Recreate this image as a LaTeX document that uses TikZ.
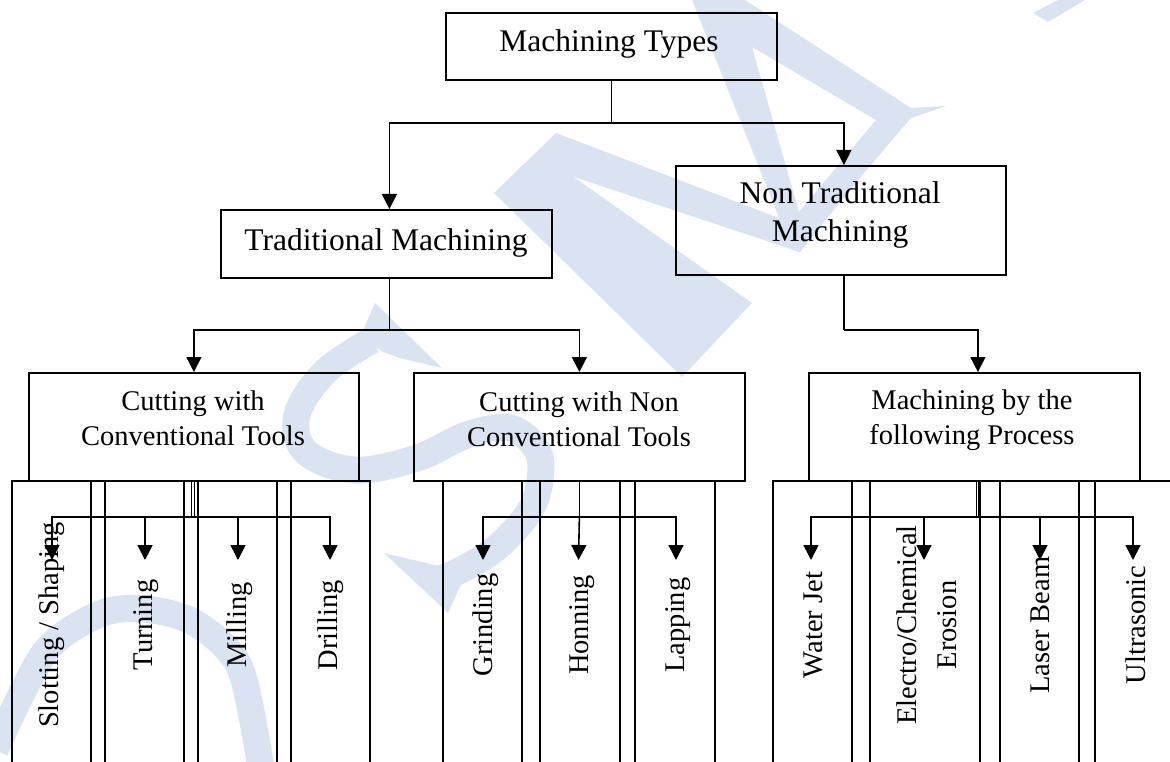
\documentclass[tikz,border=0pt]{standalone}
\usepackage{fontspec}
\setmainfont{Liberation Serif}
\usetikzlibrary{arrows.meta}
\definecolor{wmark}{RGB}{218,227,241}
\begin{document}
\begin{tikzpicture}[x=1pt,y=-1pt,
  bx/.style={draw, line width=1.8pt, rectangle, inner sep=0pt, anchor=north west},
  conn/.style={draw, line width=1.6pt},
  arr/.style={conn, -{Triangle[width=15pt,length=15pt]}},
  dbl/.style={draw, line width=0.9pt, double, double distance=1.7pt},
  big/.style={anchor=base, inner sep=0pt, font=\fontsize{31.5}{38}\selectfont},
  mid/.style={anchor=base, inner sep=0pt, font=\fontsize{28.5}{35}\selectfont},
  lf/.style={rotate=90, inner sep=0pt, align=center, font=\fontsize{28.5}{40}\selectfont},
  wm/.style={draw=wmark, line width=27pt},
]
\useasboundingbox (0,0) rectangle (1170,762);
\clip (0,0) rectangle (1170,762);

% ---------- watermark ----------
\draw[wm] plot[smooth] coordinates {(-5,750) (45,652) (100,614) (145,609) (195,623) (240,668) (262,775)};
\draw[wm] plot[smooth, tension=0.6] coordinates {(372,340) (325,372) (297,415) (306,452) (355,470) (417,458) (467,435) (510,428) (537,450) (540,480) (529,512) (495,549) (453,574) (432,580)};
\fill[wmark] (375,303) -- (442,368) -- (400,358) -- (383,352) -- (360,337) -- cycle;
\fill[wmark] (443,567) -- (384,553) -- (448,613) -- (463,580) -- cycle;
\fill[wmark] (494,193) -- (556,133) -- (568,173) -- (752,303) -- (682,377) -- cycle;
\fill[wmark] (556,133) -- (805,228) -- (800,252) -- (568,175) -- cycle;
\fill[wmark, even odd rule] (692,0) -- (745,0) -- (911,108) -- (946,106) -- (911,118) -- (858,180) -- (800,252) -- (792,250) -- cycle
   (752,47) -- (876,120) -- (799,212) -- cycle;
\fill[wmark] (1033,13) -- (1058,0) -- (1085,0) -- (1048,22) -- cycle;

% ---------- boxes ----------
\node[bx, minimum width=331pt, minimum height=67pt] (mt) at (445,12) {};
\node[big] (tmt) at (609,52) {Machining Types};

\node[bx, minimum width=331pt, minimum height=68pt] (tm) at (220,209) {};
\node[big] (ttm) at (386,251) {Traditional Machining};

\node[bx, minimum width=330pt, minimum height=109pt] (ntm) at (675,165) {};
\node[big] (tntma) at (840,204) {Non Traditional};
\node[big] (tntmb) at (840,241) {Machining};

\node[bx, minimum width=330pt, minimum height=108pt] (ca) at (28,372) {};
\node[mid] (tcaa) at (193,410) {Cutting with};
\node[mid] (tcab) at (193,445) {Conventional Tools};

\node[bx, minimum width=331pt, minimum height=108pt] (cb) at (413,372) {};
\node[mid] (tcba) at (579,411) {Cutting with Non};
\node[mid] (tcbb) at (579,446) {Conventional Tools};

\node[bx, minimum width=331pt, minimum height=108pt] (cc) at (808,372) {};
\node[mid] (tcca) at (972,409) {Machining by the};
\node[mid] (tccb) at (972,444) {following Process};

% ---------- leaf boxes ----------
\node[bx, minimum width=79pt, minimum height=330pt] (la) at (11,480) {};
\node[bx, minimum width=79pt, minimum height=330pt] (lb) at (104,480) {};
\node[bx, minimum width=79pt, minimum height=330pt] (lc) at (197,480) {};
\node[bx, minimum width=79pt, minimum height=330pt] (ld) at (290,480) {};
\node[bx, minimum width=79pt, minimum height=330pt] (ga) at (442,480) {};
\node[bx, minimum width=80pt, minimum height=330pt] (gb) at (539,480) {};
\node[bx, minimum width=80pt, minimum height=330pt] (gc) at (634,480) {};
\node[bx, minimum width=79pt, minimum height=330pt] (wa) at (772,480) {};
\node[bx, minimum width=110pt, minimum height=330pt] (wb) at (869,480) {};
\node[bx, minimum width=79pt, minimum height=330pt] (wc) at (999,480) {};
\node[bx, minimum width=110pt, minimum height=330pt] (wd) at (1094,480) {};

\node[lf] (tla) at (52,625) {Slotting / Shaping};
\node[lf] (tlb) at (146,625) {Turning};
\node[lf] (tlc) at (240,625) {Milling};
\node[lf] (tld) at (331,625) {Drilling};
\node[lf] (tga) at (486,625) {Grinding};
\node[lf] (tgb) at (582,625) {Honning};
\node[lf] (tgc) at (678,625) {Lapping};
\node[lf] (twa) at (813,625) {Water Jet};
\node[lf] (twb) at (927,625) {Electro/Chemical\\Erosion};
\node[lf] (twc) at (1040,625) {Laser Beam};
\node[lf] (twd) at (1136,625) {Ultrasonic};

% ---------- upper connectors ----------
\draw[conn] (mt.south) -- ++(0,42) coordinate (j0);
\draw[arr] (j0) -| ([xshift=3pt]tm.north);
\draw[arr] (j0) -| ([xshift=3pt]ntm.north);

\draw[conn] ([xshift=3pt]tm.south) -- ++(0,51) coordinate (j1);
\draw[arr] (j1) -| (ca.north);
\draw[arr] (j1) -| (cb.north);

\draw[conn] ([xshift=3pt]ntm.south) -- ++(0,54) coordinate (j2);
\draw[arr] (j2) -| ([xshift=3.5pt]cc.north);

% ---------- leaf connectors ----------
\coordinate (aa) at (52,560);
\coordinate (ab) at (145,560);
\coordinate (ac) at (238,560);
\coordinate (ad) at (330,560);
\coordinate (ba) at (483,560);
\coordinate (bb) at (578.5,560);
\coordinate (bc) at (676,560);
\coordinate (wwa) at (811,560);
\coordinate (wwb) at (924,560);
\coordinate (wwc) at (1040,560);
\coordinate (wwd) at (1133,560);

\draw[dbl] ([xshift=-1pt]ca.south) -- ++(0,35) coordinate (ka);
\draw[arr] (ka) -| (aa);
\draw[arr] (ka) -| (ab);
\draw[arr] (ka) -| (ac);
\draw[arr] (ka) -| (ad);

\draw[conn] (cb.south) -- ++(0,35) coordinate (kb);
\draw[arr] (kb) -| (ba);
\draw[arr] (kb) -- (bb);
\draw[arr] (kb) -| (bc);

\draw[dbl] ([xshift=3pt]cc.south) -- ++(0,35) coordinate (kc);
\draw[arr] (kc) -| (wwa);
\draw[arr] (kc) -| (wwb);
\draw[arr] (kc) -| (wwc);
\draw[arr] (kc) -| (wwd);
\end{tikzpicture}
\end{document}
